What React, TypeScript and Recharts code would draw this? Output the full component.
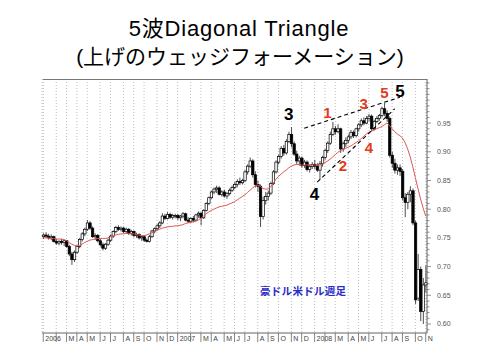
import React from 'react';
import {
  ComposedChart, Bar, Line, XAxis, YAxis, CartesianGrid,
  ReferenceLine, ReferenceDot,
} from 'recharts';

// month axis
const months = [
  '2006-01', '2006-02', '2006-03', '2006-04', '2006-05', '2006-06', '2006-07', '2006-08', '2006-09', '2006-10', '2006-11', '2006-12',
  '2007-01', '2007-02', '2007-03', '2007-04', '2007-05', '2007-06', '2007-07', '2007-08', '2007-09', '2007-10', '2007-11', '2007-12',
  '2008-01', '2008-02', '2008-03', '2008-04', '2008-05', '2008-06', '2008-07', '2008-08', '2008-09', '2008-10', '2008-11',
];
const weeksPerMonth = [
  5, 4, 4, 4, 5, 4, 5, 4, 4, 5, 4, 4,
  5, 4, 4, 5, 4, 4, 5, 4, 4, 5, 4, 5,
  4, 4, 5, 4, 4, 5, 4, 4, 5, 4, 1,
];
const monthLabels = [
  '2006', '', 'M', 'A', 'M', 'J', 'J', 'A', 'S', 'O', 'N', 'D',
  '2007', '', 'M', 'A', 'M', 'J', 'J', 'A', 'S', 'O', 'N', 'D',
  '2008', '', 'M', 'A', 'M', 'J', 'J', 'A', 'S', 'O', 'N',
];

// weekly AUD/USD candles: [open, high, low, close]
const ohlc: [number, number, number, number][] = [
  // 2006
  [0.752, 0.758, 0.748, 0.755], [0.755, 0.76, 0.75, 0.753], [0.753, 0.757, 0.747, 0.75], [0.75, 0.756, 0.746, 0.752], [0.752, 0.754, 0.742, 0.744],
  [0.744, 0.748, 0.738, 0.741], [0.741, 0.746, 0.737, 0.744], [0.744, 0.748, 0.738, 0.742], [0.742, 0.747, 0.736, 0.745],
  [0.745, 0.746, 0.733, 0.735], [0.735, 0.738, 0.718, 0.722], [0.722, 0.726, 0.703, 0.712], [0.712, 0.728, 0.708, 0.725],
  [0.725, 0.737, 0.722, 0.735], [0.735, 0.75, 0.732, 0.747], [0.747, 0.76, 0.744, 0.757], [0.757, 0.768, 0.753, 0.765],
  [0.765, 0.781, 0.762, 0.776], [0.776, 0.779, 0.764, 0.767], [0.767, 0.77, 0.75, 0.752], [0.752, 0.758, 0.746, 0.754], [0.754, 0.757, 0.742, 0.745],
  [0.745, 0.748, 0.735, 0.738], [0.738, 0.742, 0.728, 0.732], [0.732, 0.741, 0.729, 0.739], [0.739, 0.749, 0.736, 0.746],
  [0.746, 0.756, 0.743, 0.753], [0.753, 0.763, 0.75, 0.761], [0.761, 0.771, 0.758, 0.768], [0.768, 0.772, 0.762, 0.765], [0.765, 0.77, 0.761, 0.767],
  [0.767, 0.769, 0.758, 0.761], [0.761, 0.768, 0.757, 0.765], [0.765, 0.767, 0.755, 0.758], [0.758, 0.764, 0.754, 0.761],
  [0.761, 0.763, 0.751, 0.754], [0.754, 0.759, 0.75, 0.756], [0.756, 0.758, 0.747, 0.75], [0.75, 0.754, 0.745, 0.752],
  [0.752, 0.753, 0.743, 0.746], [0.746, 0.749, 0.742, 0.744], [0.744, 0.755, 0.742, 0.752], [0.752, 0.764, 0.75, 0.762], [0.762, 0.768, 0.758, 0.766],
  [0.766, 0.774, 0.763, 0.771], [0.771, 0.779, 0.767, 0.776], [0.776, 0.793, 0.774, 0.788], [0.788, 0.792, 0.781, 0.784],
  [0.784, 0.795, 0.782, 0.791], [0.791, 0.794, 0.783, 0.786], [0.786, 0.792, 0.782, 0.789], [0.789, 0.792, 0.784, 0.789],
  // 2007
  [0.789, 0.792, 0.781, 0.785], [0.785, 0.79, 0.779, 0.788], [0.788, 0.795, 0.784, 0.792], [0.792, 0.794, 0.779, 0.781], [0.781, 0.786, 0.776, 0.779],
  [0.779, 0.786, 0.776, 0.784], [0.784, 0.788, 0.777, 0.781], [0.781, 0.792, 0.779, 0.79], [0.79, 0.796, 0.785, 0.793],
  [0.793, 0.795, 0.772, 0.785], [0.785, 0.8, 0.783, 0.798], [0.798, 0.812, 0.796, 0.81], [0.81, 0.822, 0.807, 0.82],
  [0.82, 0.832, 0.818, 0.83], [0.83, 0.838, 0.826, 0.835], [0.835, 0.841, 0.828, 0.837], [0.837, 0.84, 0.824, 0.826], [0.826, 0.833, 0.822, 0.83],
  [0.83, 0.834, 0.82, 0.823], [0.823, 0.83, 0.818, 0.827], [0.827, 0.836, 0.824, 0.833], [0.833, 0.841, 0.83, 0.838],
  [0.838, 0.847, 0.835, 0.843], [0.843, 0.852, 0.838, 0.848], [0.848, 0.855, 0.842, 0.846], [0.846, 0.853, 0.843, 0.85],
  [0.85, 0.868, 0.847, 0.865], [0.865, 0.878, 0.86, 0.875], [0.875, 0.89, 0.872, 0.884], [0.884, 0.887, 0.855, 0.86], [0.86, 0.866, 0.838, 0.843],
  [0.843, 0.85, 0.83, 0.84], [0.84, 0.843, 0.769, 0.787], [0.787, 0.822, 0.782, 0.815], [0.815, 0.83, 0.808, 0.822],
  [0.822, 0.832, 0.815, 0.828], [0.828, 0.848, 0.825, 0.845], [0.845, 0.868, 0.842, 0.865], [0.865, 0.885, 0.862, 0.882],
  [0.882, 0.895, 0.878, 0.892], [0.892, 0.91, 0.888, 0.906], [0.906, 0.912, 0.893, 0.898], [0.898, 0.922, 0.895, 0.918], [0.918, 0.935, 0.915, 0.93],
  [0.93, 0.943, 0.908, 0.914], [0.914, 0.918, 0.893, 0.896], [0.896, 0.902, 0.878, 0.884], [0.884, 0.893, 0.876, 0.889],
  [0.889, 0.892, 0.872, 0.876], [0.876, 0.886, 0.872, 0.882], [0.882, 0.885, 0.866, 0.869], [0.869, 0.878, 0.864, 0.874], [0.874, 0.882, 0.87, 0.878],
  // 2008
  [0.878, 0.886, 0.87, 0.875], [0.875, 0.88, 0.865, 0.868], [0.868, 0.884, 0.851, 0.879], [0.879, 0.893, 0.874, 0.89],
  [0.89, 0.905, 0.886, 0.902], [0.902, 0.918, 0.898, 0.915], [0.915, 0.935, 0.912, 0.93], [0.93, 0.952, 0.928, 0.94],
  [0.94, 0.945, 0.93, 0.935], [0.935, 0.948, 0.932, 0.94], [0.94, 0.942, 0.898, 0.905], [0.905, 0.918, 0.9, 0.914], [0.914, 0.925, 0.908, 0.92],
  [0.92, 0.93, 0.915, 0.926], [0.926, 0.938, 0.922, 0.934], [0.934, 0.937, 0.924, 0.928], [0.928, 0.942, 0.925, 0.94],
  [0.94, 0.95, 0.935, 0.947], [0.947, 0.958, 0.943, 0.954], [0.954, 0.96, 0.946, 0.95], [0.95, 0.962, 0.948, 0.958],
  [0.958, 0.966, 0.953, 0.962], [0.962, 0.965, 0.935, 0.94], [0.94, 0.956, 0.937, 0.953], [0.953, 0.962, 0.95, 0.958], [0.958, 0.966, 0.954, 0.963],
  [0.963, 0.978, 0.96, 0.975], [0.975, 0.985, 0.962, 0.967], [0.967, 0.972, 0.952, 0.958], [0.958, 0.962, 0.89, 0.894],
  [0.894, 0.9, 0.872, 0.88], [0.88, 0.888, 0.862, 0.868], [0.868, 0.878, 0.86, 0.872], [0.872, 0.878, 0.858, 0.866],
  [0.866, 0.87, 0.815, 0.82], [0.82, 0.828, 0.786, 0.812], [0.812, 0.83, 0.8, 0.826], [0.826, 0.84, 0.812, 0.832], [0.832, 0.836, 0.772, 0.776],
  [0.776, 0.78, 0.635, 0.642], [0.645, 0.722, 0.64, 0.695], [0.695, 0.7, 0.605, 0.622], [0.622, 0.68, 0.6, 0.668],
  [0.668, 0.702, 0.655, 0.672],
];

// red moving average
const movingAvg = [
  0.75, 0.75, 0.75, 0.749, 0.749, 0.748, 0.748, 0.748, 0.747, 0.745, 0.742, 0.739, 0.737,
  0.736, 0.737, 0.739, 0.742, 0.744, 0.746, 0.747, 0.748, 0.749, 0.749, 0.749, 0.749, 0.75,
  0.752, 0.753, 0.755, 0.756, 0.757, 0.757, 0.758, 0.758, 0.757, 0.757, 0.756, 0.755, 0.754,
  0.754, 0.755, 0.757, 0.759, 0.761, 0.763, 0.765, 0.767, 0.768, 0.769, 0.77, 0.77, 0.771,
  0.771, 0.772, 0.773, 0.775, 0.776, 0.777, 0.778, 0.779, 0.781, 0.784, 0.788, 0.792, 0.795,
  0.798, 0.8, 0.802, 0.804, 0.805, 0.806, 0.807, 0.809, 0.811, 0.813, 0.816, 0.819, 0.822,
  0.825, 0.829, 0.833, 0.837, 0.84, 0.842, 0.84, 0.836, 0.835, 0.835, 0.839, 0.845, 0.852,
  0.857, 0.861, 0.865, 0.868, 0.872, 0.875, 0.877, 0.878, 0.878, 0.877, 0.877, 0.877, 0.877, 0.877,
  0.877, 0.877, 0.877, 0.879, 0.881, 0.884, 0.887, 0.891, 0.895, 0.899, 0.902, 0.904, 0.906,
  0.908, 0.91, 0.913, 0.916, 0.919, 0.923, 0.927, 0.931, 0.934, 0.936, 0.938, 0.94, 0.942,
  0.944, 0.947, 0.95, 0.946, 0.94, 0.935, 0.931, 0.928, 0.924, 0.916, 0.905, 0.891, 0.874,
  0.855, 0.836, 0.818, 0.802, 0.788,
];

const priceLabels = [0.6, 0.65, 0.7, 0.75, 0.8, 0.85, 0.9, 0.95];

const weekKeys: string[] = [];
const monthStartKeys: string[] = [];
const labelByKey: Record<string, string> = {};
months.forEach((m, mi) => {
  for (let w = 0; w < weeksPerMonth[mi]; w++) {
    const key = `${m}-${w + 1}`;
    if (w === 0) {
      monthStartKeys.push(key);
      labelByKey[key] = monthLabels[mi];
    }
    weekKeys.push(key);
  }
});

const data = ohlc.map(([o, h, l, c], i) => ({
  week: weekKeys[i], open: o, high: h, low: l, close: c, range: [l, h], ma: movingAvg[i],
}));

// minor ticks every 0.01 on the price axis
const priceTicks: number[] = [];
for (let t = 59; t <= 102; t++) priceTicks.push(t / 100);

const Y_MIN = 0.5843;
const Y_MAX = 1.0268;

const Candle = (props: any) => {
  const { x, y, width, height, payload } = props;
  if (!payload || !isFinite(y)) return null;
  const top = Math.min(y, y + height);
  const h = Math.abs(height);
  const span = payload.high - payload.low;
  const k = span > 0 ? h / span : 0;
  const cx = x + width / 2;
  const up = payload.close >= payload.open;
  const bTop = top + (payload.high - Math.max(payload.open, payload.close)) * k;
  const bBot = top + (payload.high - Math.min(payload.open, payload.close)) * k;
  const bw = 2.4;
  return (
    <g>
      <line x1={cx} x2={cx} y1={top} y2={top + h} stroke="#222" strokeWidth={0.8} />
      <rect x={cx - bw / 2} y={bTop} width={bw} height={Math.max(bBot - bTop, 0.8)}
        fill={up ? '#fff' : '#000'} stroke="#000" strokeWidth={0.7} />
    </g>
  );
};

const MonthTick = ({ x, y, payload }: any) => {
  const label = labelByKey[payload.value] || '';
  return (
    <g>
      <line x1={x} x2={x} y1={y} y2={y + 9} stroke="#666" strokeWidth={0.8} />
      {label && (
        <text x={x + 2} y={y + 8} fontSize={7} fill="#444" textAnchor="start"
          fontFamily='"Liberation Sans", Arial, sans-serif'>{label}</text>
      )}
    </g>
  );
};

const PriceTick = ({ x, y, payload }: any) => {
  const v = payload.value;
  const major = priceLabels.some((t) => Math.abs(t - v) < 1e-6);
  return (
    <g>
      <line x1={x} x2={x + (major ? 4 : 2.5)} y1={y} y2={y} stroke="#666" strokeWidth={0.7} />
      {major && (
        <text x={x + 10} y={y + 2.5} fontSize={7} fill="#555"
          fontFamily='"Liberation Sans", Arial, sans-serif'>{v.toFixed(2)}</text>
      )}
    </g>
  );
};

// wave counts: [week index, price, text, colour]
const waveMarks: [number, number, string, string][] = [
  [95, 0.966, '3', 'black'],
  [105, 0.8265, '4', 'black'],
  [138, 1.006, '5', 'black'],
  [110, 0.9676, '1', 'red'],
  [116, 0.875, '2', 'red'],
  [124, 0.983, '3', 'red'],
  [126, 0.908, '4', 'red'],
  [132, 1.0024, '5', 'red'],
];

export default function App() {
  return (
    <div style={{ position: 'absolute', left: 0, top: 0, width: 480, height: 360, background: '#fff' }}>
      <ComposedChart width={480} height={360} data={data}
        margin={{ top: 79, right: 3, bottom: 7, left: 42 }} barCategoryGap={0}>
        <CartesianGrid horizontal={false} stroke="#bdbdbd" strokeDasharray="1 2" />
        <XAxis dataKey="week" type="category" ticks={monthStartKeys} interval={0}
          tick={<MonthTick />} tickLine={false} tickSize={0} tickMargin={0} height={20}
          axisLine={{ stroke: '#666' }} />
        <YAxis orientation="right" domain={[Y_MIN, Y_MAX]} ticks={priceTicks} interval={0}
          tick={<PriceTick />} tickLine={false} tickSize={0} tickMargin={0} width={50}
          axisLine={{ stroke: '#666' }} allowDataOverflow />
        <Bar dataKey="range" shape={<Candle />} isAnimationActive={false} />
        <Line dataKey="ma" type="linear" stroke="#e25454" strokeWidth={1} dot={false}
          isAnimationActive={false} />
        <ReferenceLine segment={[{ x: weekKeys[101], y: 0.941 }, { x: weekKeys[138], y: 0.995 }]}
          stroke="#000" strokeDasharray="4 3" strokeWidth={1.1} ifOverflow="visible" />
        <ReferenceLine segment={[{ x: weekKeys[106], y: 0.847 }, { x: weekKeys[136], y: 0.975 }]}
          stroke="#000" strokeDasharray="4 3" strokeWidth={1.1} ifOverflow="visible" />
        {waveMarks.map(([w, v, t, c], i) => (
          <ReferenceDot key={i} x={weekKeys[w]} y={v} r={0} fill="none" stroke="none"
            ifOverflow="visible"
            label={{
              value: t, position: 'center',
              fill: c === 'red' ? '#e23b1e' : '#000',
              fontSize: c === 'red' ? 15 : 17,
              fontWeight: 'bold',
              fontFamily: '"Liberation Sans", Arial, sans-serif',
            }} />
        ))}
      </ComposedChart>
      <svg width={480} height={360} style={{ position: 'absolute', left: 0, top: 0, pointerEvents: 'none' }}>
        <text x={239} y={36} textAnchor="middle" fontSize={22} letterSpacing={0.8}
          fontFamily='"Liberation Sans", Arial, "Noto Sans CJK JP", sans-serif' fill="#000">
          5波Diagonal Triangle
        </text>
        <text x={240} y={64} textAnchor="middle" fontSize={21}
          fontFamily='"Liberation Sans", Arial, "Noto Sans CJK JP", sans-serif' fill="#000">
          (上げのウェッジフォーメーション)
        </text>
        <line x1={43} x2={427} y1={79.5} y2={79.5} stroke="#777" strokeWidth={1} />
        <text x={260} y={295} fontSize={10.5} fontWeight="bold" letterSpacing={0.3}
          fontFamily='"Noto Sans CJK JP", sans-serif' fill="#2b2bc8">
          豪ドル米ドル週足
        </text>
      </svg>
    </div>
  );
}
